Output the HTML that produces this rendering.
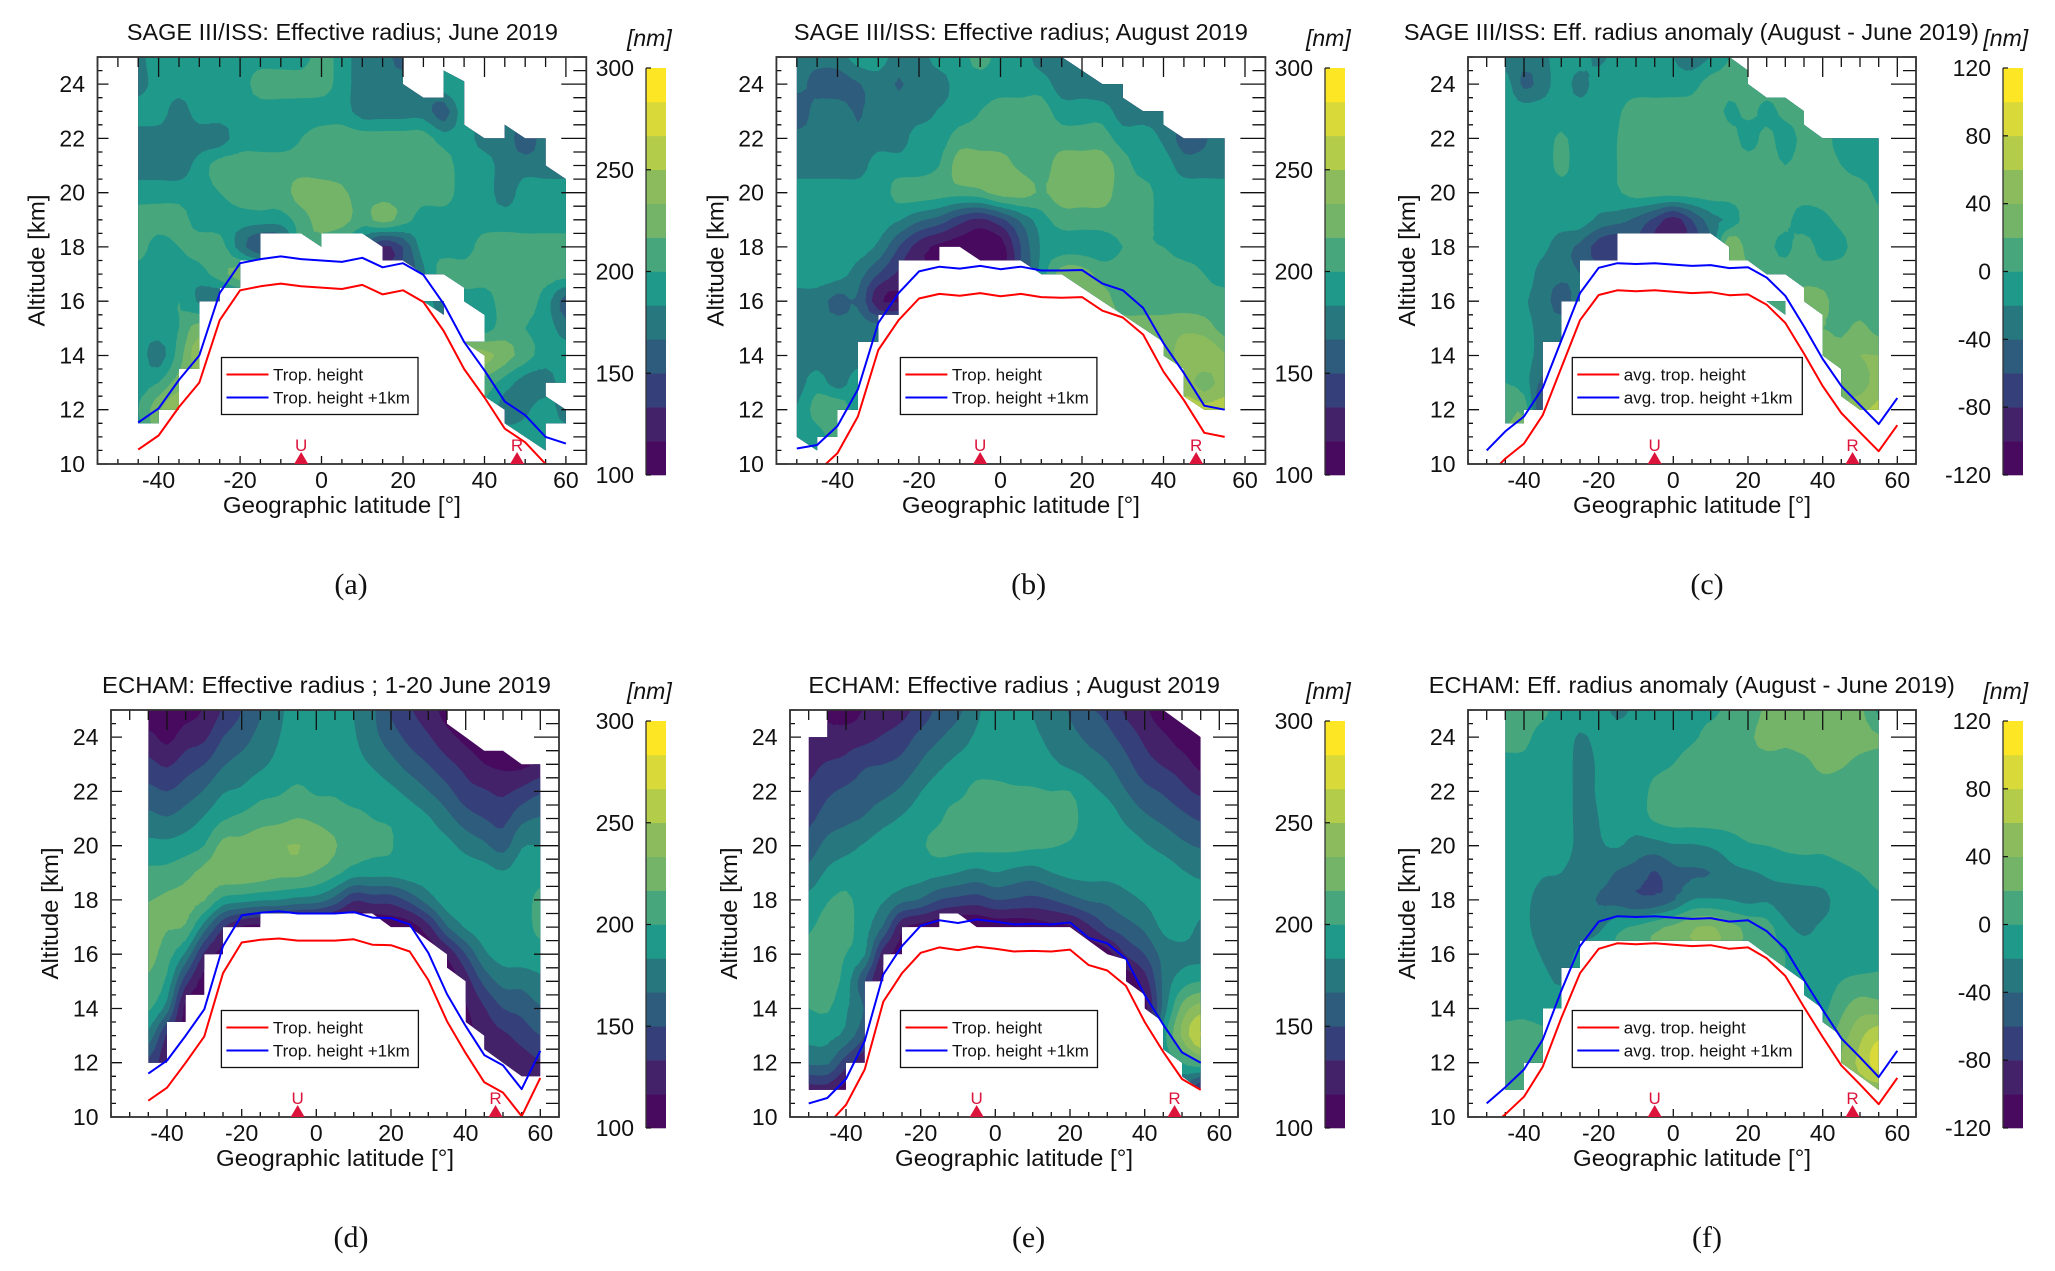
<!DOCTYPE html>
<html lang="en">
<head>
<meta charset="utf-8">
<title>Effective radius panels</title>
<style>
html,body{margin:0;padding:0;background:#fff;}
svg{display:block;}
text{font-family:"Liberation Sans",Arial,sans-serif;fill:#111;}
.caption{font-family:"Liberation Serif",serif;}
</style>
</head>
<body>
<svg id="figure" xmlns="http://www.w3.org/2000/svg" width="2055" height="1271" viewBox="0 0 2055 1271"></svg>
<script>
const altitudes = [25,24,23,22,21,20,19,18,17,16,15,14,13,12,11,10];
const xTickValues = [-40,-20,0,20,40,60];
const yTickValues = [10,12,14,16,18,20,22,24];
const radiusLevels = [100,116.67,133.33,150,166.67,183.33,200,216.67,233.33,250,266.67,283.33,300];
const anomalyLevels = [-120,-100,-80,-60,-40,-20,0,20,40,60,80,100,120];
const radiusTicks = [100,150,200,250,300];
const anomalyTicks = [-120,-80,-40,0,40,80,120];
const bandColors = ['#470a5e','#43226a','#35407a','#2e5c7c','#27777f','#1f9a8a','#47a67c','#74b468','#8bbb5c','#b3cc4a','#d9d93a','#fde725'];
const markerLats = [-5,48];
const markerLabels = ['U','R'];

/* Panel (a) SAGE June */
const aLats = [-45,-40,-35,-30,-25,-20,-15,-10,-5,0,5,10,15,20,25,30,35,40,45,50,55,60];
const aValues = [
[175,200,192,192,192,192,192,192,192,208,192,175,175,158,175,175,175,175,175,175,175,175],
[175,192,192,192,192,192,208,208,208,208,192,175,175,175,175,192,200,175,175,175,175,175],
[192,192,175,192,192,192,192,192,192,192,192,175,175,175,175,158,192,175,175,175,175,175],
[175,175,175,175,175,192,192,192,200,208,208,208,208,208,208,192,192,175,175,158,175,175],
[175,175,175,190,208,208,208,208,208,208,208,208,208,208,208,208,192,192,175,175,175,175],
[192,192,192,192,200,208,208,208,225,225,220,208,208,208,208,208,192,192,175,192,192,192],
[208,208,208,192,192,192,192,192,208,225,225,208,225,208,192,192,192,192,192,192,192,192],
[208,192,200,208,208,175,150,150,208,208,192,175,130,150,192,192,192,208,208,208,208,208],
[192,192,192,192,210,225,225,200,200,200,200,200,150,150,180,208,208,208,208,208,208,208],
[192,192,200,180,165,175,192,192,192,192,192,192,192,192,192,175,192,192,208,208,192,158],
[192,192,200,225,192,192,192,192,192,192,192,192,192,192,192,192,192,192,208,200,192,175],
[192,175,208,242,192,192,192,192,192,192,192,192,192,192,192,192,240,240,225,208,192,192],
[192,200,225,225,192,192,192,192,192,192,192,192,192,192,192,192,192,208,192,175,175,192],
[200,230,250,225,192,192,192,192,192,192,192,192,192,192,192,192,192,200,175,180,192,175],
[192,225,240,225,192,192,192,192,192,192,192,192,192,192,192,192,192,200,192,192,192,192],
[192,225,240,225,192,192,192,192,192,192,192,192,192,192,192,192,192,200,192,192,192,192]];
const aBoundary = [[-45,25],[20,25],[20,24],[25,23.5],[30,23.5],[30,24.5],[35,24.1],[35,22.5],[40,22],[45,22],[45,22.5],[50,22],[55,22],[55,21],[60,20.5],[60,13],[55,13],[55,12.5],[60,12],[60,11.5],[55,11.5],[55,10.5],[45,11.5],[45,12],[40,12.5],[40,14],[35,14.5],[40,14.5],[40,15.5],[35,16],[35,16.5],[30,17],[25,17],[20,17.5],[15,17.5],[15,18],[10,18.5],[0,18.5],[0,18],[-5,18.5],[-15,18.5],[-15,17.5],[-20,17.5],[-20,16.5],[-25,16.5],[-25,16],[-30,16],[-30,13.5],[-35,13.5],[-35,12],[-40,12],[-40,11.5],[-45,11.5]];
const aPatch = [[25,16],[30,16],[30,15.5]];
const aRed = [10.53,11.05,12.1,13,15.3,16.4,16.55,16.65,16.55,16.5,16.45,16.6,16.25,16.4,15.97,14.9,13.5,12.45,11.3,10.8,10,9.75];
const aBlue = [11.53,12.05,13.1,14,16.3,17.4,17.55,17.65,17.55,17.5,17.45,17.6,17.25,17.4,16.97,15.9,14.5,13.45,12.3,11.8,11,10.75];

/* Panel (b) SAGE August */
const bLats = [-50,-45,-40,-35,-30,-25,-20,-15,-10,-5,0,5,10,15,20,25,30,35,40,45,50,55];
const bValues = [
[175,175,175,192,192,175,175,192,192,208,192,192,175,175,175,175,175,175,175,175,175,175],
[175,158,158,165,175,165,175,175,192,192,192,192,192,175,175,170,175,175,175,175,175,175],
[150,175,175,165,175,175,175,185,192,200,208,208,208,192,192,192,175,175,175,175,175,175],
[175,175,175,170,175,175,192,192,208,208,208,208,208,208,208,208,192,192,180,160,165,175],
[175,175,175,175,192,192,192,200,225,225,225,212,208,225,225,225,208,192,192,175,175,175],
[192,192,192,192,192,205,208,208,208,212,225,225,215,225,225,225,208,208,192,192,192,192],
[192,192,192,192,192,185,170,160,140,130,145,170,192,208,208,208,208,208,192,192,192,192],
[192,192,192,192,180,150,125,112,108,104,108,150,185,192,192,192,200,200,200,192,192,192],
[192,192,190,175,150,130,120,120,110,110,115,150,190,225,225,210,208,208,208,208,200,192],
[175,175,160,165,120,115,130,130,130,130,150,190,200,225,225,225,208,208,208,208,208,208],
[175,175,175,175,175,175,175,175,175,175,175,200,200,225,225,225,225,225,225,230,225,210],
[175,175,175,175,175,175,175,175,175,175,175,200,200,225,225,225,225,225,225,242,250,235],
[175,192,175,192,175,175,175,175,175,175,175,200,200,225,225,225,225,225,225,242,225,242],
[185,208,215,192,192,192,192,192,192,192,192,200,200,225,225,225,225,225,225,258,258,258],
[192,192,208,192,192,192,192,192,192,192,192,200,200,225,225,225,225,225,225,258,258,258],
[192,192,208,192,192,192,192,192,192,192,192,200,200,225,225,225,225,225,225,258,258,258]];
const bBoundary = [[-50,25],[15,25],[25,24],[30,24],[30,23.5],[35,23],[40,23],[40,22.5],[45,22],[55,22],[55,12],[50,12],[45,12.5],[45,13.5],[40,14],[40,14.5],[35,15],[30,15.5],[25,16],[20,16.5],[15,17],[10,17],[5,17.5],[-5,17.5],[-10,18],[-15,18],[-15,17.5],[-25,17.5],[-25,15.5],[-30,15.5],[-30,14.5],[-35,14.5],[-35,12],[-40,12],[-40,11],[-45,11],[-45,10.5],[-50,11]];
const bRed = [9.57,9.7,10.4,11.75,14.2,15.3,16.1,16.27,16.2,16.3,16.18,16.27,16.15,16.13,16.15,15.65,15.4,14.77,13.4,12.35,11.15,11];
const bBlue = [10.57,10.7,11.4,12.75,15.2,16.3,17.1,17.27,17.2,17.3,17.18,17.27,17.13,17.13,17.15,16.65,16.4,15.75,14.45,13.35,12.15,12];

/* Panel (c) SAGE anomaly */
const cLats = [-45,-40,-35,-30,-25,-20,-15,-10,-5,0,5,10,15,20,25,30,35,40,45,50,55];
const cValues = [
[-30,-30,-25,-10,-10,-25,-10,-10,-10,-20,-30,-20,0,10,10,10,10,10,10,10,10],
[-10,-45,-30,-10,-28,-10,-10,-10,-10,-10,-8,10,10,10,10,10,10,10,10,10,10],
[-10,-10,-10,-10,-10,-10,-3,10,10,10,10,15,-5,5,-5,5,10,10,10,10,10],
[-10,-10,-10,3,-10,-10,0,10,10,10,10,10,10,-8,5,-8,5,5,-5,-5,-8],
[-10,-10,-10,5,-10,-10,0,10,10,10,10,10,10,10,10,0,10,10,0,-8,-10],
[-10,-10,-8,-8,-5,-10,-3,10,10,10,10,10,10,10,10,10,10,10,10,10,-5],
[-10,-10,-10,-10,-8,-25,-32,-45,-65,-90,-60,-30,-15,10,10,5,-10,-5,5,10,5],
[-5,-10,-15,-32,-45,-70,-80,-60,-85,-100,-70,-40,40,10,5,-5,10,-8,-5,10,5],
[-10,-10,-28,-35,-40,-50,-50,-50,-50,-50,-50,-30,30,20,10,10,10,10,10,10,5],
[-10,-18,-30,-50,-30,-30,-30,-30,-30,-30,-30,-30,10,10,10,10,30,25,10,10,5],
[-10,-12,-28,-30,-30,-30,0,0,0,0,0,0,0,10,10,10,10,20,15,25,12],
[-10,-10,-30,-35,-30,-30,0,0,0,0,0,0,0,10,10,10,10,30,30,40,40],
[0,-10,-45,-30,-30,-30,0,0,0,0,0,0,0,10,10,10,10,30,30,30,50],
[10,15,-60,-30,-30,0,0,0,0,0,0,0,0,10,10,10,10,30,40,55,65],
[25,30,0,0,0,0,0,0,0,0,0,0,0,10,10,10,10,30,50,60,65],
[25,30,0,0,0,0,0,0,0,0,0,0,0,10,10,10,10,30,50,60,65]];
const cBoundary = [[-45,25],[15,25],[20,24.5],[20,24],[25,23.5],[30,23.5],[35,23],[35,22.5],[40,22],[55,22],[55,12],[50,12],[45,12.5],[45,13.5],[40,14],[40,15.5],[35,16],[35,16.5],[30,17],[25,17],[20,17.5],[15,17.5],[15,18],[10,18.5],[-15,18.5],[-15,17.5],[-25,17.5],[-25,16],[-30,16],[-30,14.5],[-35,14.5],[-35,12],[-40,12],[-40,11.5],[-45,11.5]];
const cPatch = [[25,16],[30,16],[30,15.5]];
const cLineLats = [-50,-45,-40,-35,-30,-25,-20,-15,-10,-5,0,5,10,15,20,25,30,35,40,45,50,55,60];
const cRed = [9.5,10.2,10.75,11.8,13.55,15.3,16.23,16.4,16.37,16.4,16.35,16.3,16.33,16.22,16.25,15.87,15.2,14.07,12.87,11.88,11.17,10.47,11.43];
const cBlue = [10.5,11.2,11.75,12.8,14.55,16.3,17.23,17.4,17.37,17.4,17.35,17.3,17.33,17.22,17.25,16.87,16.2,15.07,13.87,12.88,12.17,11.47,12.43];

/* Panel (d) ECHAM June: one altitude profile per latitude */
const dLats = [-45,-40,-35,-30,-25,-20,-15,-10,-5,0,5,10,15,20,25,30,35,40,45,50,55,60];
const dProfiles = [
[105,122,138,155,172,188,204,216,223,222,214,203,178,145,130,120],
[105,112,131,150,168,188,205,220,218,208,196,175,130,120],
[110,125,142,158,175,192,212,222,215,180,140,110],
[118,130,150,168,185,200,222,218,175,130,110],
[135,150,165,182,198,222,228,195,135,110],
[150,160,173,186,204,222,228,190,115,105],
[165,172,180,195,210,228,226,185,110,105],
[180,183,188,198,212,232,222,183,110,105],
[190,192,194,203,217,234,222,178,105],
[192,192,192,198,213,228,215,175,103],
[192,190,190,198,208,218,205,160,100],
[183,185,188,192,205,208,192,135,100],
[170,172,182,192,200,203,190,140,100],
[148,158,172,187,198,201,190,140,105],
[135,145,160,178,192,192,192,155,108],
[125,135,150,167,185,192,192,175,128,105],
[110,122,138,155,172,188,192,192,165,120,105],
[105,112,128,140,158,178,192,192,185,150,125,115,110],
[100,105,117,135,150,170,190,192,192,180,155,132,125,118],
[100,105,113,130,145,160,185,192,192,190,172,150,130,120],
[100,100,112,138,162,182,192,192,192,192,172,155,140,125,120],
[100,105,120,148,168,183,192,205,205,192,180,165,150,132,128]];
const dBoundary = [[-45,25],[35,25],[35,24.5],[40,24],[45,23.5],[50,23.5],[55,23],[60,23],[60,11.5],[55,11.5],[45,12.5],[45,13],[40,13.5],[40,15],[35,15.5],[35,16],[30,16.5],[25,17],[20,17],[15,17.5],[-15,17.5],[-15,17],[-25,17],[-25,16],[-30,16],[-30,14.5],[-35,14.5],[-35,13.5],[-40,13.5],[-40,12],[-45,12]];
const dRed = [10.6,11.08,12,12.97,15.3,16.43,16.53,16.58,16.5,16.5,16.5,16.55,16.35,16.33,16.1,15.05,13.53,12.35,11.28,10.9,10.03,11.44];
const dBlue = [11.6,12.08,13,13.97,16.3,17.43,17.53,17.58,17.5,17.5,17.5,17.55,17.35,17.33,17.1,16.05,14.53,13.35,12.28,11.9,11.03,12.44];

/* Panel (e) ECHAM August */
const eLats = [-50,-45,-40,-35,-30,-25,-20,-15,-10,-5,0,5,10,15,20,25,30,35,40,45,50,55];
const eProfiles = [
[115,120,128,136,146,158,172,188,198,204,204,200,188,170,125,115],
[115,120,135,147,158,172,186,199,206,208,208,202,188,170,125,115],
[108,125,138,153,163,178,192,203,205,200,192,185,178,140,110],
[118,128,148,158,168,185,192,192,190,185,150,165,150,120],
[122,135,150,162,178,192,197,185,165,125,110],
[128,142,155,170,185,192,192,172,120,110],
[140,155,168,183,192,198,190,165,110,105],
[155,165,180,192,198,205,188,150,105],
[163,175,188,195,208,205,183,145,100],
[180,186,192,205,208,205,178,142,100],
[192,192,194,204,208,204,183,150,105],
[190,191,193,202,208,205,178,148,105],
[183,186,190,202,208,203,175,145,108],
[175,180,186,200,207,201,183,150,112],
[165,172,180,200,206,198,188,160,115],
[152,163,175,188,192,192,188,168,130,105],
[146,155,168,180,192,192,188,170,150,110],
[130,143,155,167,180,192,190,178,160,135,105],
[120,130,140,155,170,185,192,185,170,150,125,110],
[105,120,132,148,163,178,192,192,187,172,170,172,192,175,110],
[100,108,125,138,155,170,185,192,192,178,192,222,236,200,165],
[100,100,112,130,148,165,180,190,180,178,200,242,268,215,130]];
const eBoundary = [[-50,24],[-45,24],[-45,25],[45,25],[55,24],[55,11],[50,11.5],[50,12],[45,12.5],[45,13.5],[40,14],[40,14.5],[35,15],[35,15.8],[30,16],[20,17],[-5,17],[-10,17.5],[-15,17.5],[-15,17],[-25,17],[-25,16],[-30,16],[-30,15],[-35,15],[-35,12],[-40,12],[-40,11],[-50,11]];
const eRed = [9.5,9.7,10.45,11.75,14.25,15.3,16.05,16.25,16.15,16.28,16.2,16.1,16.12,16.1,16.17,15.6,15.4,14.83,13.5,12.4,11.4,11];
const eBlue = [10.5,10.7,11.4,12.8,15.25,16.3,17.05,17.25,17.15,17.28,17.2,17.1,17.12,17.1,17.17,16.6,16.4,15.83,14.5,13.4,12.38,12];

/* Panel (f) ECHAM anomaly */
const fLats = [-45,-40,-35,-30,-25,-20,-15,-10,-5,0,5,10,15,20,25,30,35,40,45,50,55];
const fProfiles = [
[10,8,-6,-10,-10,-10,-10,-10,-10,-10,-10,-5,5,10,10,10],
[10,5,-5,-10,-10,-10,-10,-15,-15,-10,-10,-5,8,15,15],
[5,-8,-10,-10,-10,-10,-18,-28,-30,-22,-15,-10,5,10],
[-10,-10,-10,-10,-10,-10,-20,-28,-30,-28,-22,-10,-5],
[-10,-22,-25,-25,-25,-25,-30,-30,-30,-15,-10],
[-10,-15,-18,-18,-20,-22,-28,-42,-25,-5,-5],
[-25,-10,-10,-10,-10,-18,-42,-48,-5,5,5],
[-15,-10,-10,-10,-10,-28,-48,-58,3,10,10],
[-10,-10,-5,5,3,-28,-62,-58,15,22,22],
[-10,-10,0,10,8,-22,-45,-42,25,28,28],
[-3,-3,10,10,8,-22,-42,-20,38,35,35],
[-3,5,10,10,8,-18,-40,-18,42,45,45],
[3,8,10,10,8,-10,-25,-20,28,30,30],
[5,15,10,10,10,-2,-22,-25,15,12,12],
[25,30,10,10,10,0,-18,-22,8,5,5],
[30,25,12,10,10,3,-12,-30,-15,0,0],
[30,30,15,10,10,3,-8,-32,-25,-10,-10,-8],
[30,28,25,10,10,2,-6,-28,-16,-10,-10,-5,5],
[30,30,22,10,10,5,-3,-8,-10,-10,0,15,30,45],
[25,28,15,10,10,8,0,-8,-10,-10,5,32,55,65,50],
[-5,22,12,10,10,5,5,-3,-10,-5,5,30,75,92,50]];
const fBoundary = [[-45,25],[55,25],[55,11],[50,11.5],[45,12],[45,13],[40,13.5],[40,14],[35,14.5],[35,15],[30,15.5],[25,16],[20,16.5],[-25,16.5],[-25,15.5],[-30,15.5],[-30,14],[-35,14],[-35,12],[-40,12],[-40,11],[-45,11]];
const fRed = [9.5,10.1,10.75,11.85,13.65,15.3,16.2,16.4,16.37,16.4,16.35,16.3,16.33,16.2,16.25,15.85,15.2,14.05,12.95,11.9,11.2,10.47,11.44];
const fBlue = [10.5,11.1,11.75,12.85,14.65,16.3,17.2,17.4,17.37,17.4,17.35,17.3,17.33,17.2,17.25,16.85,16.2,15.05,13.95,12.9,12.2,11.47,12.44];

const legendShort = ['Trop. height','Trop. height +1km'];
const legendAvg = ['avg. trop. height','avg. trop. height +1km'];

function profilesToRows(profiles){
  return altitudes.map(function(_, r){
    return profiles.map(function(col){ return r < col.length ? col[r] : col[col.length-1]; });
  });
}

const panels = [
 {id:'a',title:'SAGE III/ISS: Effective radius; June 2019',titleX:342.4,titleW:431,titleY:40,left:97.5,right:586.3,top:57,bottom:464,cbar:646,nmX:627,nmY:46,levels:radiusLevels,ticks:radiusTicks,lats:aLats,values:aValues,boundary:aBoundary,patch:aPatch,lineLats:aLats,red:aRed,blue:aBlue,legend:legendShort,legendX:124,legendW:196.5,labelX:351,labelY:594},
 {id:'b',title:'SAGE III/ISS: Effective radius; August 2019',titleX:1020.9,titleW:454,titleY:40,left:776.4,right:1265.4,top:57,bottom:464,cbar:1325,nmX:1306,nmY:46,levels:radiusLevels,ticks:radiusTicks,lats:bLats,values:bValues,boundary:bBoundary,lineLats:bLats,red:bRed,blue:bBlue,legend:legendShort,legendX:124,legendW:196.5,labelX:1028.6,labelY:594},
 {id:'c',title:'SAGE III/ISS: Eff. radius anomaly (August - June 2019)',titleX:1691.4,titleW:575,titleY:40,left:1468,right:1916,top:57,bottom:464,cbar:2003,nmX:1983.4,nmY:46,levels:anomalyLevels,ticks:anomalyTicks,lats:cLats,values:cValues,boundary:cBoundary,patch:cPatch,lineLats:cLineLats,red:cRed,blue:cBlue,legend:legendAvg,legendX:104.3,legendW:230,labelX:1707,labelY:594},
 {id:'d',title:'ECHAM: Effective radius ; 1-20 June 2019',titleX:326.5,titleW:449,titleY:693,left:111,right:559,top:710,bottom:1117,cbar:646,nmX:627,nmY:699,levels:radiusLevels,ticks:radiusTicks,lats:dLats,values:profilesToRows(dProfiles),boundary:dBoundary,lineLats:dLats,red:dRed,blue:dBlue,legend:legendShort,legendX:110.4,legendW:197,labelX:351,labelY:1247},
 {id:'e',title:'ECHAM: Effective radius ; August 2019',titleX:1014.2,titleW:411.5,titleY:693,left:790,right:1238,top:710,bottom:1117,cbar:1325,nmX:1306,nmY:699,levels:radiusLevels,ticks:radiusTicks,lats:eLats,values:profilesToRows(eProfiles),boundary:eBoundary,lineLats:eLats,red:eRed,blue:eBlue,legend:legendShort,legendX:110.5,legendW:197,labelX:1028.6,labelY:1247},
 {id:'f',title:'ECHAM: Eff. radius anomaly (August - June 2019)',titleX:1691.8,titleW:526,titleY:693,left:1468,right:1916,top:710,bottom:1117,cbar:2003,nmX:1983.4,nmY:699,levels:anomalyLevels,ticks:anomalyTicks,lats:fLats,values:profilesToRows(fProfiles),boundary:fBoundary,lineLats:cLineLats,red:fRed,blue:fBlue,legend:legendAvg,legendX:104.3,legendW:230,labelX:1707,labelY:1247}
];

const SVGNS = 'http://www.w3.org/2000/svg';
const figure = document.getElementById('figure');
const REFINE = 3;

function make(tag, parent, attrs){
  const node = document.createElementNS(SVGNS, tag);
  for (const k in attrs) node.setAttribute(k, attrs[k]);
  parent.appendChild(node);
  return node;
}
function addText(parent, str, x, y, size, anchor){
  const node = make('text', parent, {x:x, y:y, 'font-size':size, 'text-anchor':anchor});
  node.textContent = str;
  return node;
}
function fmt(n){ return n.toFixed(1); }

function catmull(a, b, c, d, t){
  return 0.5 * (2*b + (c-a)*t + (2*a-5*b+4*c-d)*t*t + (3*b-a-3*c+d)*t*t*t);
}
/* Smooth the read grid for rendering, clamped to each cell's corner range. */
function refineGrid(vals){
  const nr = vals.length, nc = vals[0].length;
  const out = [];
  function at(r, c){
    return vals[Math.max(0, Math.min(nr-1, r))][Math.max(0, Math.min(nc-1, c))];
  }
  for (let R = 0; R <= (nr-1)*REFINE; R++){
    const row = [];
    const r0 = Math.min(Math.floor(R/REFINE), nr-2), tr = R/REFINE - r0;
    for (let C = 0; C <= (nc-1)*REFINE; C++){
      const c0 = Math.min(Math.floor(C/REFINE), nc-2), tc = C/REFINE - c0;
      const rowVals = [-1,0,1,2].map(function(dr){
        return catmull(at(r0+dr,c0-1), at(r0+dr,c0), at(r0+dr,c0+1), at(r0+dr,c0+2), tc);
      });
      let v = catmull(rowVals[0], rowVals[1], rowVals[2], rowVals[3], tr);
      const corners = [at(r0,c0), at(r0,c0+1), at(r0+1,c0), at(r0+1,c0+1)];
      v = Math.max(Math.min.apply(null, corners), Math.min(Math.max.apply(null, corners), v));
      row.push(v);
    }
    out.push(row);
  }
  return out;
}
function refineAxis(pixels){
  const out = [];
  for (let i = 0; i < pixels.length - 1; i++){
    for (let k = 0; k < REFINE; k++) out.push(pixels[i] + (pixels[i+1]-pixels[i]) * k / REFINE);
  }
  out.push(pixels[pixels.length-1]);
  return out;
}

function clipTriangle(tri, t){
  const out = [];
  for (let i = 0; i < 3; i++){
    const p = tri[i], q = tri[(i+1)%3];
    const pIn = p[2] >= t, qIn = q[2] >= t;
    if (pIn) out.push(p);
    if (pIn !== qIn){
      const f = (t - p[2]) / (q[2] - p[2]);
      out.push([p[0] + f*(q[0]-p[0]), p[1] + f*(q[1]-p[1]), t]);
    }
  }
  return out;
}

function bandPath(vals, xs, ys, threshold){
  const parts = [];
  function addTri(tri){
    const poly = clipTriangle(tri, threshold);
    if (poly.length < 3) return;
    parts.push('M' + poly.map(function(p){ return fmt(p[0]) + ' ' + fmt(p[1]); }).join('L') + 'Z');
  }
  for (let r = 0; r < ys.length - 1; r++){
    let runStart = -1;
    for (let c = 0; c < xs.length - 1; c++){
      const full = vals[r][c] >= threshold && vals[r][c+1] >= threshold && vals[r+1][c] >= threshold && vals[r+1][c+1] >= threshold;
      if (full){
        if (runStart < 0) runStart = c;
        continue;
      }
      if (runStart >= 0){
        parts.push('M' + fmt(xs[runStart]) + ' ' + fmt(ys[r]) + 'L' + fmt(xs[c]) + ' ' + fmt(ys[r]) + 'L' + fmt(xs[c]) + ' ' + fmt(ys[r+1]) + 'L' + fmt(xs[runStart]) + ' ' + fmt(ys[r+1]) + 'Z');
        runStart = -1;
      }
      const p00 = [xs[c], ys[r], vals[r][c]];
      const p10 = [xs[c+1], ys[r], vals[r][c+1]];
      const p01 = [xs[c], ys[r+1], vals[r+1][c]];
      const p11 = [xs[c+1], ys[r+1], vals[r+1][c+1]];
      addTri([p00, p10, p11]);
      addTri([p00, p11, p01]);
    }
    if (runStart >= 0){
      const e = xs.length - 1;
      parts.push('M' + fmt(xs[runStart]) + ' ' + fmt(ys[r]) + 'L' + fmt(xs[e]) + ' ' + fmt(ys[r]) + 'L' + fmt(xs[e]) + ' ' + fmt(ys[r+1]) + 'L' + fmt(xs[runStart]) + ' ' + fmt(ys[r+1]) + 'Z');
    }
  }
  return parts.join('');
}

function linePath(lats, heights, sx, sy){
  return lats.map(function(lat, i){
    return (i ? 'L' : 'M') + fmt(sx(lat)) + ' ' + fmt(sy(heights[i]));
  }).join('');
}

panels.forEach(function(p){
  const sx = function(lat){ return p.left + (lat + 55) / 120 * (p.right - p.left); };
  const sy = function(alt){ return p.bottom - (alt - 10) / 15 * (p.bottom - p.top); };

  const g = make('g', figure, {});
  
  

  const defs = make('defs', g, {});
  const maskClip = make('clipPath', defs, {id:'mask-' + p.id});
  make('polygon', maskClip, {points:p.boundary.map(function(b){ return fmt(sx(b[0])) + ',' + fmt(sy(b[1])); }).join(' ')});
  if (p.patch) make('polygon', maskClip, {points:p.patch.map(function(b){ return fmt(sx(b[0])) + ',' + fmt(sy(b[1])); }).join(' ')});
  const plotClip = make('clipPath', defs, {id:'plot-' + p.id});
  make('rect', plotClip, {x:p.left, y:p.top, width:p.right-p.left, height:p.bottom-p.top});

  const title = addText(g, p.title, p.titleX, p.titleY, 23, 'middle');
  title.setAttribute('textLength', p.titleW);
  title.setAttribute('lengthAdjust', 'spacingAndGlyphs');
  
  

  /* filled contours */
  const field = make('g', g, {'clip-path':'url(#mask-' + p.id + ')'});
  
  
  const xs = refineAxis(p.lats.map(sx));
  const ys = refineAxis(altitudes.map(sy));
  const fine = refineGrid(p.values);
  bandColors.forEach(function(color, i){
    const threshold = i === 0 ? -Infinity : p.levels[i];
    const band = make('path', field, {d:bandPath(fine, xs, ys, threshold), fill:color});
    
    
  });

  /* ticks */
  let xTickPath = '';
  for (let lat = -55; lat <= 65; lat += 5){
    const major = xTickValues.indexOf(lat) >= 0;
    const x = fmt(sx(lat));
    xTickPath += 'M' + x + ' ' + p.bottom + 'v-' + (major ? 8 : 5);
    xTickPath += 'M' + x + ' ' + p.top + 'v' + (major ? 20 : 10);
  }
  const xTicks = make('path', g, {d:xTickPath, stroke:'#111', 'stroke-width':1.3, fill:'none'});
  
  

  let yTickPath = '';
  for (let alt = 10; alt <= 25; alt += 0.5){
    const major = yTickValues.indexOf(alt) >= 0;
    const y = fmt(sy(alt));
    yTickPath += 'M' + p.left + ' ' + y + 'h' + (major ? 11 : 5);
    yTickPath += 'M' + p.right + ' ' + y + 'h-' + (major ? 25 : 13);
  }
  const yTicks = make('path', g, {d:yTickPath, stroke:'#111', 'stroke-width':1.3, fill:'none'});
  
  

  /* tropopause lines */
  const lines = make('g', g, {'clip-path':'url(#plot-' + p.id + ')'});
  
  
  const redLine = make('path', lines, {d:linePath(p.lineLats, p.red, sx, sy), stroke:'#ff0000', 'stroke-width':2, fill:'none', 'stroke-linejoin':'round'});
  
  
  const blueLine = make('path', lines, {d:linePath(p.lineLats, p.blue, sx, sy), stroke:'#0000ff', 'stroke-width':2, fill:'none', 'stroke-linejoin':'round'});
  
  

  /* frame */
  const frame = make('rect', g, {x:p.left, y:p.top, width:p.right-p.left, height:p.bottom-p.top, fill:'none', stroke:'#333', 'stroke-width':1.8});
  
  

  /* axis labels */
  xTickValues.forEach(function(v){
    const t = addText(g, String(v), sx(v), p.bottom + 24, 23, 'middle');
    
    
  });
  yTickValues.forEach(function(v){
    const t = addText(g, String(v), p.left - 12.5, sy(v) + 8, 23, 'end');
    
    
  });
  const xTitle = addText(g, 'Geographic latitude [°]', (p.left + p.right) / 2, p.bottom + 49, 23, 'middle');
  xTitle.setAttribute('textLength', 238);
  xTitle.setAttribute('lengthAdjust', 'spacingAndGlyphs');
  
  
  const yMid = (p.top + p.bottom) / 2;
  const yTitle = addText(g, 'Altitude [km]', 0, 0, 23, 'middle');
  yTitle.setAttribute('transform', 'translate(' + (p.left - 53) + ' ' + yMid + ') rotate(-90)');
  yTitle.setAttribute('textLength', 132);
  yTitle.setAttribute('lengthAdjust', 'spacingAndGlyphs');
  
  

  /* site markers */
  markerLats.forEach(function(lat, i){
    const mx = sx(lat);
    const tri = make('polygon', g, {points:(mx-7) + ',' + p.bottom + ' ' + mx + ',' + (p.bottom-12) + ' ' + (mx+7) + ',' + p.bottom, fill:'#dc143c'});
    
    
    const lab = addText(g, markerLabels[i], mx, p.bottom - 13, 17, 'middle');
    lab.style.fill = '#dc143c';
    
    
  });

  /* legend */
  const legendLeft = p.left + p.legendX;
  const legendTop = p.bottom - 106.5;
  const legend = make('g', g, {});
  
  
  make('rect', legend, {x:legendLeft, y:legendTop, width:p.legendW, height:57, fill:'#fff', stroke:'#111', 'stroke-width':1.3});
  ['#ff0000','#0000ff'].forEach(function(color, i){
    const rowY = legendTop + 17 + i * 23;
    const swatch = make('line', legend, {x1:legendLeft+5, x2:legendLeft+47, y1:rowY, y2:rowY, stroke:color, 'stroke-width':2});
    
    
    const entry = addText(legend, p.legend[i], legendLeft + 51.5, rowY + 6, 17, 'start');
    
    
  });

  /* colour bar */
  const cbTop = p.top + 11;
  const cbBottom = p.bottom + 11;
  const sc = function(v){
    const lo = p.levels[0], hi = p.levels[p.levels.length-1];
    return cbBottom - (v - lo) / (hi - lo) * (cbBottom - cbTop);
  };
  const cb = make('g', g, {});
  
  
  bandColors.forEach(function(color, i){
    const y1 = sc(p.levels[i+1]), y0 = sc(p.levels[i]);
    const swatch = make('rect', cb, {x:p.cbar, y:y1, width:20, height:y0-y1+0.3, fill:color});
    
    
  });
  make('line', cb, {x1:p.cbar, x2:p.cbar, y1:cbTop, y2:cbBottom, stroke:'#333', 'stroke-width':1.3});
  p.ticks.forEach(function(v){
    const ty = sc(v);
    make('line', cb, {x1:p.cbar, x2:p.cbar+5, y1:ty, y2:ty, stroke:'#111', 'stroke-width':1.2});
    const t = addText(cb, String(v), p.cbar - 12, ty + 8, 23, 'end');
    
    
  });
  const nm = addText(g, '[nm]', p.nmX, p.nmY, 23, 'start');
  nm.setAttribute('font-style', 'italic');
  
  

  const cap = addText(g, '(' + p.id + ')', p.labelX, p.labelY, 30, 'middle');
  cap.setAttribute('class', 'caption');
  
  
});
</script>
</body>
</html>
